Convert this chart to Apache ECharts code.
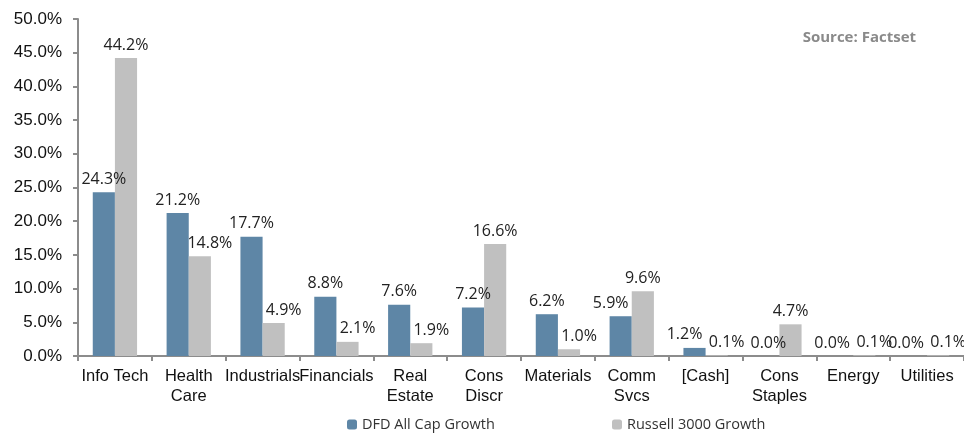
<!DOCTYPE html>
<html>
<head>
<meta charset="utf-8">
<script src="https://cdn.jsdelivr.net/npm/echarts@6/dist/echarts.min.js"></script>
<style>
  html, body { margin: 0; padding: 0; background: #fff; }
  #chart { width: 964px; height: 433px; }
</style>
</head>
<body>
<div id="chart"></div>
<script>
// sectors and weights (%)
const categories = ['Info Tech', 'Health\nCare', 'Industrials', 'Financials', 'Real\nEstate', 'Cons\nDiscr',
  'Materials', 'Comm\nSvcs', '[Cash]', 'Cons\nStaples', 'Energy', 'Utilities'];
const dfdValues = [24.3, 21.2, 17.7, 8.8, 7.6, 7.2, 6.2, 5.9, 1.2, 0.0, 0.0, 0.0];
const russellValues = [44.2, 14.8, 4.9, 2.1, 1.9, 16.6, 1.0, 9.6, 0.1, 4.7, 0.1, 0.1];
const yTicks = [0, 5, 10, 15, 20, 25, 30, 35, 40, 45, 50];

const chart = echarts.init(document.getElementById('chart'));

const labelStyle = {
    show: true,
    position: 'top',
    distance: 5,
    color: '#222',
    fontFamily: 'Open Sans',
    fontSize: 16,
    formatter: p => p.value.toFixed(1) + '%'
};

// nudge labels sideways like the excel original, so neighbours don't collide
function dfdLabelShift(p) {
    const i = p.dataIndex;
    return Math.abs(dfdValues[i] - russellValues[i]) < 4 ? { dx: -10 } : {};
}
function russellLabelShift(p) {
    const i = p.dataIndex;
    const a = russellValues[i], b = dfdValues[i];
    return (a < b || Math.abs(a - b) < 0.5) ? { dx: 10 } : {};
}

chart.setOption({
    animation: false,
    textStyle: { fontFamily: 'Liberation Sans' },
    graphic: [{
        type: 'text', right: 48, top: 30,
        style: { text: 'Source: Factset', fill: '#8a8a8a', font: 'bold 15px "Open Sans"' }
    }],
    grid: { left: 78, right: -6, top: 19, bottom: 77 },
    legend: [
        { data: ['DFD All Cap Growth'], left: 342, top: 412, itemWidth: 10, itemHeight: 10,
          textStyle: { fontFamily: 'Open Sans', fontSize: 14.5, color: '#333' } },
        { data: ['Russell 3000 Growth'], left: 607, top: 412, itemWidth: 10, itemHeight: 10,
          textStyle: { fontFamily: 'Open Sans', fontSize: 14.5, color: '#333' } }
    ],
    xAxis: {
        type: 'category',
        data: categories,
        axisLine: { lineStyle: { color: '#8c8c8c', width: 2 } },
        axisTick: { show: true, length: 5, lineStyle: { color: '#8c8c8c', width: 2 } },
        axisLabel: { color: '#111', fontSize: 16.5, margin: 10, lineHeight: 20, interval: 0 }
    },
    yAxis: {
        type: 'value',
        min: yTicks[0],
        max: yTicks[yTicks.length - 1],
        interval: 5,
        splitLine: { show: false },
        axisLine: { show: true, lineStyle: { color: '#8c8c8c', width: 2 } },
        axisTick: { show: true, length: 5, lineStyle: { color: '#8c8c8c', width: 2 } },
        axisLabel: { color: '#111', fontSize: 17, margin: 16, formatter: v => v.toFixed(1) + '%' }
    },
    series: [
        { name: 'DFD All Cap Growth', type: 'bar', data: dfdValues, barGap: '0%', barCategoryGap: '40%',
          itemStyle: { color: '#5e86a6' }, label: labelStyle, labelLayout: dfdLabelShift },
        { name: 'Russell 3000 Growth', type: 'bar', data: russellValues,
          itemStyle: { color: '#c0c0c0' }, label: labelStyle, labelLayout: russellLabelShift }
    ]
});
</script>
</body>
</html>
